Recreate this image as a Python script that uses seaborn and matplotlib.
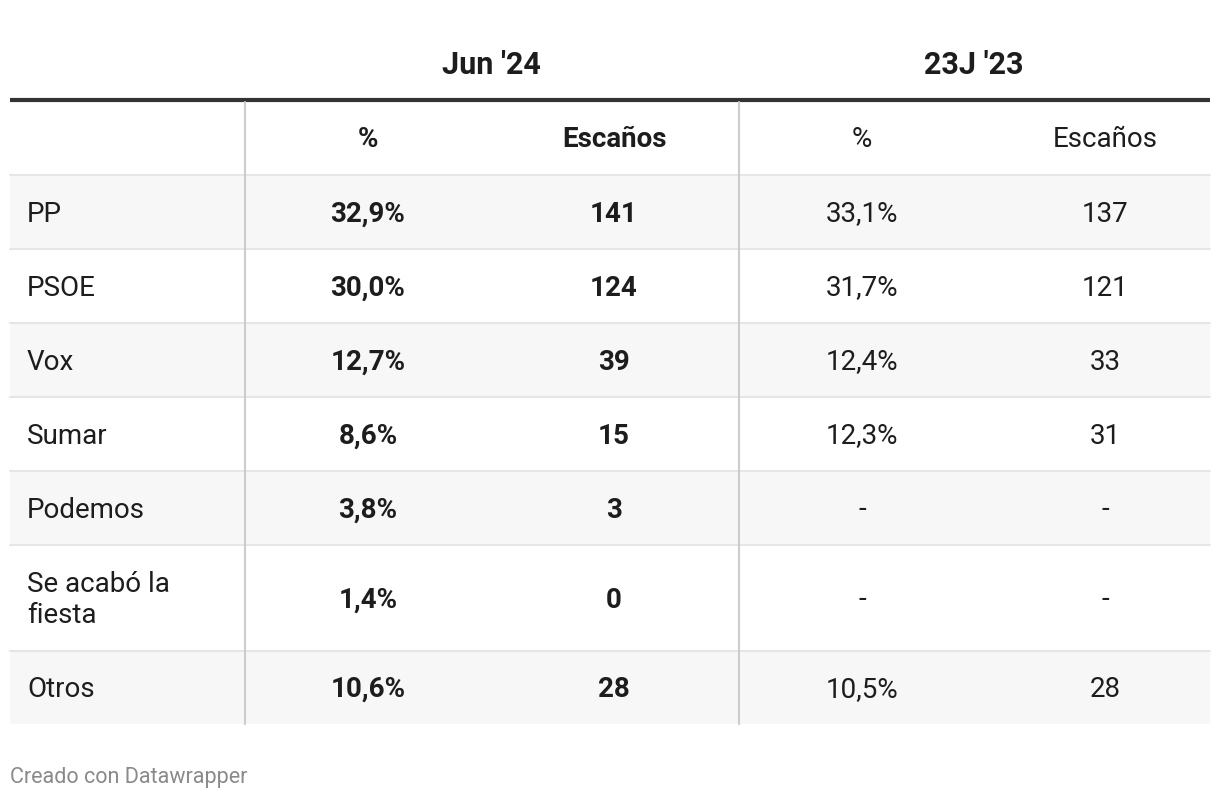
import pandas as pd
import matplotlib.pyplot as plt
import seaborn as sns

# Data
parties = ["PP", "PSOE", "Vox", "Sumar", "Podemos", "Se acabó la\nfiesta", "Otros"]
jun24_pct = ["32,9%", "30,0%", "12,7%", "8,6%", "3,8%", "1,4%", "10,6%"]
jun24_seats = ["141", "124", "39", "15", "3", "0", "28"]
j23_pct = ["33,1%", "31,7%", "12,4%", "12,3%", "-", "-", "10,5%"]
j23_seats = ["137", "121", "33", "31", "-", "-", "28"]
group_labels = ["Jun '24", "23J '23"]
sub_labels = ["%", "Escaños", "%", "Escaños"]

df = pd.DataFrame({
    "party": parties,
    "jun_pct": jun24_pct,
    "jun_seats": jun24_seats,
    "j23_pct": j23_pct,
    "j23_seats": j23_seats,
})

# Style
sns.set_theme(style="white")
plt.rcParams["font.family"] = ["Roboto", "DejaVu Sans"]

TEXT = "#1d1d1d"
STRIPE = "#f7f7f7"
ROWLINE = "#e6e6e6"
VLINE = "#cccccc"
FS = 20

# Layout (pixel units in a 1220x800 canvas)
left, right = 10, 1210
label_x = 27
col_x = [368, 614, 862, 1105]
group_x = [491, 974]
sep_x = [245, 739]
top_rule = 100
header_bottom = 175
row_h = [74, 74, 74, 74, 74, 106, 73]

fig = plt.figure(figsize=(12.2, 8), dpi=100)
ax = fig.add_axes([0, 0, 1, 1])
ax.set_xlim(0, 1220)
ax.set_ylim(800, 0)
ax.axis("off")

# Group headers
for gx, g in zip(group_x, group_labels):
    ax.text(gx, 65, g, ha="center", va="center", fontsize=22,
            fontweight="bold", color=TEXT)
ax.plot([left, right], [top_rule, top_rule], color="#333333", lw=3,
        solid_capstyle="butt")

# Sub headers
for i, (cx, s) in enumerate(zip(col_x, sub_labels)):
    ax.text(cx, (top_rule + header_bottom) / 2 + 2, s, ha="center",
            va="center", fontsize=FS,
            fontweight="bold" if i < 2 else "normal", color=TEXT)

# Rows
cols = ["jun_pct", "jun_seats", "j23_pct", "j23_seats"]
y0 = header_bottom
bottom = header_bottom + sum(row_h)
for i, row in df.iterrows():
    h = row_h[i]
    if i % 2 == 0:
        ax.axhspan(y0, y0 + h, xmin=left / 1220, xmax=right / 1220,
                   color=STRIPE, lw=0, zorder=0)
    ax.plot([left, right], [y0, y0], color=ROWLINE, lw=1.5, zorder=1)
    yc = y0 + h / 2 + 2
    ax.text(label_x, yc, row["party"], ha="left", va="center", fontsize=FS,
            color=TEXT, linespacing=1.15)
    for j, c in enumerate(cols):
        ax.text(col_x[j], yc, row[c], ha="center", va="center", fontsize=FS,
                fontweight="bold" if j < 2 else "normal", color=TEXT)
    y0 += h

for sx in sep_x:
    ax.plot([sx, sx], [top_rule + 2, bottom], color=VLINE, lw=1.5, zorder=2)

ax.text(10, 777, "Creado con Datawrapper", ha="left", va="center",
        fontsize=15.5, color="#8a8a8a")

fig.savefig("out.png", dpi=100)
